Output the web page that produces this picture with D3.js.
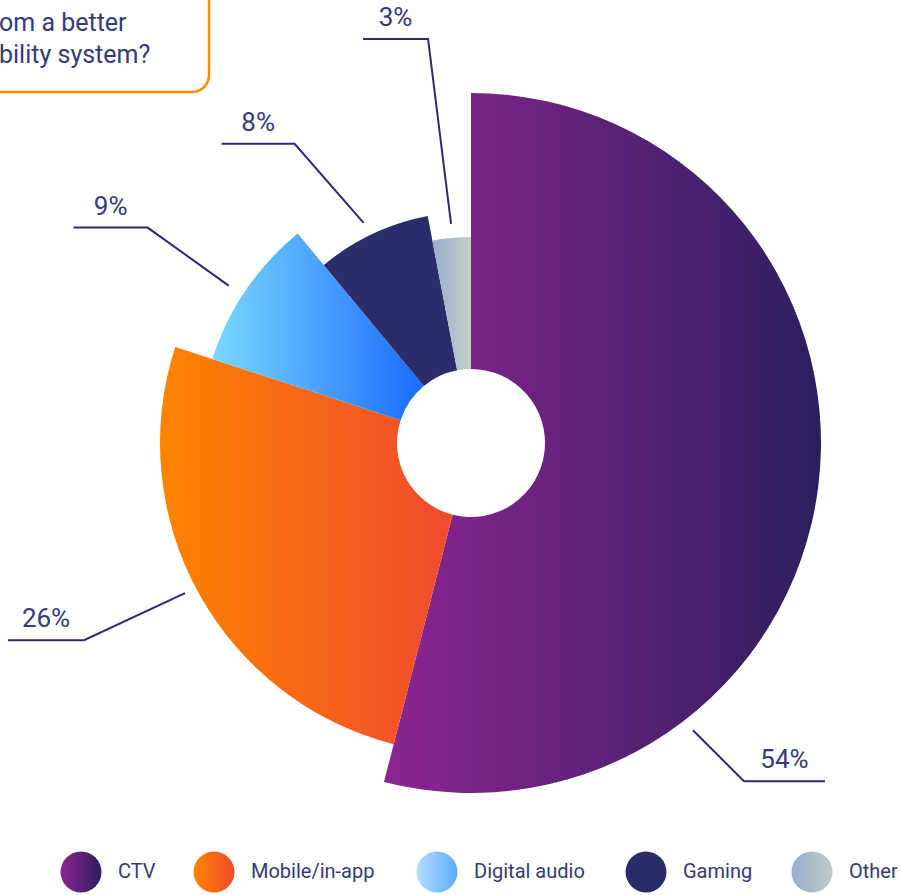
<!DOCTYPE html>
<html>
<head>
<meta charset="utf-8">
<script src="https://cdn.jsdelivr.net/npm/d3@7"></script>
<style>
  html, body { margin: 0; padding: 0; background: #ffffff; }
  svg { display: block; }
  text { font-family: Roboto, "Noto Sans", sans-serif; fill: #363a78; }
</style>
</head>
<body>
<script>
// Share of respondents per channel
const categories = ["CTV", "Mobile/in-app", "Digital audio", "Gaming", "Other"];
const shares = [54, 26, 9, 8, 3];
const legendLabels = ["CTV", "Mobile/in-app", "Digital audio", "Gaming", "Other"];
const titleLines = ["om a better", "bility system?"];

// Styling: outer radius of each wedge, slice gradients, legend gradients
const wedgeRadii = [350, 311, 272, 231, 206];
const sliceGradients = [
  ["#8d2592", "#2c1f5e"],
  ["#ff8400", "#ef4a2f"],
  ["#7ad8ff", "#1a6cff"],
  ["#2b2d6b", "#2b2d6b"],
  ["#98adcc", "#c3d0c6"]
];
const legendGradients = [
  ["#8d2592", "#2c1f5e"],
  ["#ff8400", "#ef4a2f"],
  ["#b8dcff", "#58acff"],
  ["#2b2d6b", "#2b2d6b"],
  ["#98adcc", "#bfccc2"]
];
// Leader line layout: anchor angle (deg), gap beyond wedge, elbow offset, horizontal run
const leaderLayout = [
  { angle: 142.3, gap: 13, elbow: [51, 51], run: 81 },
  { angle: 242.3, gap: 12, elbow: [-101, 47], run: -76 },
  { angle: 303.0, gap: 17, elbow: [-81, -58], run: -74 },
  { angle: 334.0, gap: 14, elbow: [-69, -79], run: -73 },
  { angle: 354.8, gap: 14, elbow: [-23, -185], run: -65 }
];

const width = 901, height = 895;
const cx = 471, cy = 443, innerR = 74;
const navy = "#2b2d6b";

const svg = d3.select("body").append("svg")
  .attr("width", width).attr("height", height);
const defs = svg.append("defs");

function addGradient(id, stops) {
  const g = defs.append("linearGradient").attr("id", id)
    .attr("x1", 0).attr("y1", 0).attr("x2", 1).attr("y2", 0);
  g.append("stop").attr("offset", "0%").attr("stop-color", stops[0]);
  g.append("stop").attr("offset", "100%").attr("stop-color", stops[1]);
}
sliceGradients.forEach((s, i) => addGradient("slice" + i, s));
legendGradients.forEach((s, i) => addGradient("leg" + i, s));

// Question box in the top-left corner
svg.append("rect")
  .attr("x", -40).attr("y", -40)
  .attr("width", 249).attr("height", 132)
  .attr("rx", 17).attr("ry", 17)
  .attr("fill", "none").attr("stroke", "#ff8a00").attr("stroke-width", 2.5);
svg.selectAll("text.title").data(titleLines).join("text")
  .attr("class", "title")
  .attr("x", -1)
  .attr("y", (d, i) => 31 + i * 32)
  .attr("font-size", 25)
  .text(d => d);

// Pie with per-category outer radius
const radius = d3.scaleOrdinal(categories, wedgeRadii);
const pie = d3.pie().sort(null).value(d => d.value);
const data = categories.map((c, i) => ({ cat: c, value: shares[i], idx: i }));
const arcs = pie(data);

const arcGen = d3.arc()
  .innerRadius(innerR)
  .outerRadius(d => radius(d.data.cat));

const g = svg.append("g").attr("transform", `translate(${cx},${cy})`);
g.selectAll("path.slice").data(arcs).join("path")
  .attr("class", "slice")
  .attr("d", arcGen)
  .attr("fill", d => `url(#slice${d.data.idx})`);

// Leader lines and percentage labels
const lbl = svg.append("g");
arcs.forEach(d => {
  const L = leaderLayout[d.data.idx];
  const a = L.angle * Math.PI / 180;
  const r = radius(d.data.cat) + L.gap;
  const x0 = cx + r * Math.sin(a), y0 = cy - r * Math.cos(a);
  const x1 = x0 + L.elbow[0], y1 = y0 + L.elbow[1];
  const x2 = x1 + L.run;
  lbl.append("path")
    .attr("d", d3.line()([[x0, y0], [x1, y1], [x2, y1]]))
    .attr("fill", "none").attr("stroke", navy).attr("stroke-width", 2);
  lbl.append("text")
    .attr("x", (x1 + x2) / 2)
    .attr("y", y1 - 13)
    .attr("text-anchor", "middle")
    .attr("font-size", 26)
    .text(d.data.value + "%");
});

// Legend
const legendX = [81, 214, 437, 646, 812];
const leg = svg.append("g");
legendLabels.forEach((name, i) => {
  leg.append("circle")
    .attr("cx", legendX[i]).attr("cy", 872).attr("r", 20.5)
    .attr("fill", `url(#leg${i})`);
  leg.append("text")
    .attr("x", legendX[i] + 37).attr("y", 878)
    .attr("font-size", 20)
    .text(name);
});
</script>
</body>
</html>
